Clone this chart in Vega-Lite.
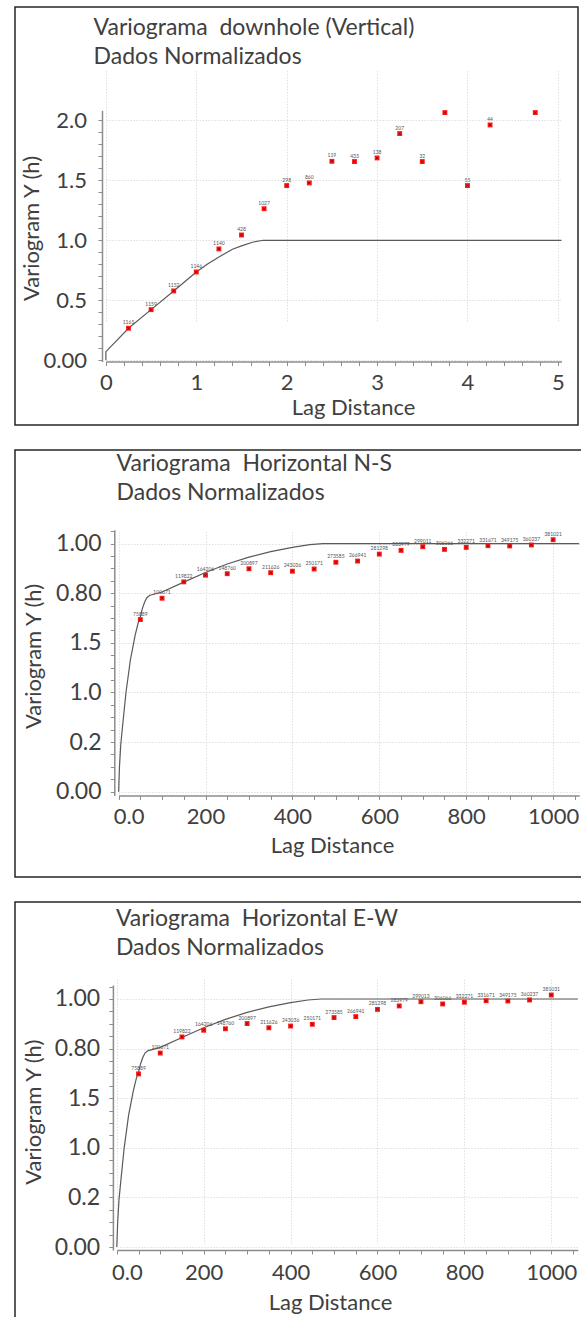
{
  "$schema": "https://vega.github.io/schema/vega-lite/v6.json",
  "background": "white",
  "padding": {"left": 14, "top": 6, "right": 0, "bottom": 0},
  "spacing": 23,
  "config": {
    "font": "Lato",
    "view": {"stroke": "#262626", "strokeWidth": 1.5},
    "axis": {
      "labelFont": "Lato", "labelFontSize": 22, "labelColor": "#404040",
      "titleFont": "Lato", "titleFontSize": 22, "titleColor": "#404040", "titleFontWeight": "normal",
      "domainColor": "#8c8c8c", "domainWidth": 1.5, "tickColor": "#8c8c8c", "tickWidth": 1,
      "gridColor": "#e0e0e0", "gridDash": [1.5, 1.5], "gridWidth": 1,
      "labelOverlap": false, "labelBound": false, "labelFlush": false
    },
    "title": {"font": "Lato", "fontSize": 23, "fontWeight": "normal", "color": "#404040", "anchor": "start", "frame": "group", "baseline": "alphabetic", "lineHeight": 29.5}
  },
  "datasets": {
    "vert_pts": [
      {"lag": 0.25, "gamma": 0.267, "pairs": "1165"},
      {"lag": 0.5, "gamma": 0.422, "pairs": "1159"},
      {"lag": 0.75, "gamma": 0.578, "pairs": "1152"},
      {"lag": 1.0, "gamma": 0.736, "pairs": "1146"},
      {"lag": 1.25, "gamma": 0.928, "pairs": "1140"},
      {"lag": 1.5, "gamma": 1.044, "pairs": "428"},
      {"lag": 1.75, "gamma": 1.263, "pairs": "1027"},
      {"lag": 2.0, "gamma": 1.456, "pairs": "298"},
      {"lag": 2.25, "gamma": 1.478, "pairs": "860"},
      {"lag": 2.5, "gamma": 1.658, "pairs": "119"},
      {"lag": 2.75, "gamma": 1.656, "pairs": "433"},
      {"lag": 3.0, "gamma": 1.686, "pairs": "138"},
      {"lag": 3.25, "gamma": 1.889, "pairs": "207"},
      {"lag": 3.5, "gamma": 1.656, "pairs": "32"},
      {"lag": 3.75, "gamma": 2.064, "pairs": ""},
      {"lag": 4.0, "gamma": 1.456, "pairs": "55"},
      {"lag": 4.25, "gamma": 1.961, "pairs": "44"},
      {"lag": 4.75, "gamma": 2.064, "pairs": ""}
    ],
    "vert_model": [
      {"seq": 0, "lag": 0, "gamma": 0},
      {"seq": 1, "lag": 0, "gamma": 0.072},
      {"seq": 2, "lag": 0.1, "gamma": 0.15},
      {"seq": 3, "lag": 0.25, "gamma": 0.267},
      {"seq": 4, "lag": 0.5, "gamma": 0.422},
      {"seq": 5, "lag": 0.75, "gamma": 0.578},
      {"seq": 6, "lag": 1.0, "gamma": 0.736},
      {"seq": 7, "lag": 1.125, "gamma": 0.803},
      {"seq": 8, "lag": 1.25, "gamma": 0.861},
      {"seq": 9, "lag": 1.4, "gamma": 0.925},
      {"seq": 10, "lag": 1.5, "gamma": 0.953},
      {"seq": 11, "lag": 1.63, "gamma": 0.986},
      {"seq": 12, "lag": 1.74, "gamma": 1.0},
      {"seq": 13, "lag": 5.04, "gamma": 1.0}
    ],
    "ns_pts": [
      {"lag": 50, "gamma": 0.694, "pairs": "75889"},
      {"lag": 100, "gamma": 0.78, "pairs": "100671"},
      {"lag": 150, "gamma": 0.846, "pairs": "119822"},
      {"lag": 200, "gamma": 0.873, "pairs": "164206"},
      {"lag": 250, "gamma": 0.879, "pairs": "148760"},
      {"lag": 300, "gamma": 0.899, "pairs": "200897"},
      {"lag": 350, "gamma": 0.883, "pairs": "211626"},
      {"lag": 400, "gamma": 0.889, "pairs": "243036"},
      {"lag": 450, "gamma": 0.898, "pairs": "250171"},
      {"lag": 500, "gamma": 0.925, "pairs": "273585"},
      {"lag": 550, "gamma": 0.93, "pairs": "266941"},
      {"lag": 600, "gamma": 0.958, "pairs": "281298"},
      {"lag": 650, "gamma": 0.973, "pairs": "283979"},
      {"lag": 700, "gamma": 0.988, "pairs": "299011"},
      {"lag": 750, "gamma": 0.977, "pairs": "306066"},
      {"lag": 800, "gamma": 0.985, "pairs": "332271"},
      {"lag": 850, "gamma": 0.992, "pairs": "331671"},
      {"lag": 900, "gamma": 0.991, "pairs": "349175"},
      {"lag": 950, "gamma": 0.995, "pairs": "360237"},
      {"lag": 1000, "gamma": 1.016, "pairs": "381021"}
    ],
    "ns_model": [
      {"seq": 0, "lag": 0, "gamma": 0},
      {"seq": 1, "lag": 2, "gamma": 0.1},
      {"seq": 2, "lag": 5, "gamma": 0.19},
      {"seq": 3, "lag": 10, "gamma": 0.28},
      {"seq": 4, "lag": 17, "gamma": 0.4},
      {"seq": 5, "lag": 27, "gamma": 0.53},
      {"seq": 6, "lag": 38, "gamma": 0.63},
      {"seq": 7, "lag": 45, "gamma": 0.68},
      {"seq": 8, "lag": 50, "gamma": 0.705},
      {"seq": 9, "lag": 55, "gamma": 0.74},
      {"seq": 10, "lag": 60, "gamma": 0.765},
      {"seq": 11, "lag": 65, "gamma": 0.782},
      {"seq": 12, "lag": 72, "gamma": 0.792},
      {"seq": 13, "lag": 86, "gamma": 0.798},
      {"seq": 14, "lag": 100, "gamma": 0.805},
      {"seq": 15, "lag": 150, "gamma": 0.845},
      {"seq": 16, "lag": 200, "gamma": 0.884},
      {"seq": 17, "lag": 250, "gamma": 0.918},
      {"seq": 18, "lag": 300, "gamma": 0.946},
      {"seq": 19, "lag": 350, "gamma": 0.968},
      {"seq": 20, "lag": 400, "gamma": 0.985},
      {"seq": 21, "lag": 440, "gamma": 0.996},
      {"seq": 22, "lag": 470, "gamma": 1.0},
      {"seq": 23, "lag": 1060, "gamma": 1.0}
    ],
    "ew_pts": [
      {"lag": 50, "gamma": 0.698, "pairs": "75889"},
      {"lag": 100, "gamma": 0.782, "pairs": "100671"},
      {"lag": 150, "gamma": 0.847, "pairs": "119822"},
      {"lag": 200, "gamma": 0.874, "pairs": "164206"},
      {"lag": 250, "gamma": 0.88, "pairs": "148760"},
      {"lag": 300, "gamma": 0.901, "pairs": "200897"},
      {"lag": 350, "gamma": 0.884, "pairs": "211626"},
      {"lag": 400, "gamma": 0.891, "pairs": "243036"},
      {"lag": 450, "gamma": 0.898, "pairs": "250171"},
      {"lag": 500, "gamma": 0.925, "pairs": "273585"},
      {"lag": 550, "gamma": 0.929, "pairs": "266941"},
      {"lag": 600, "gamma": 0.958, "pairs": "281298"},
      {"lag": 650, "gamma": 0.972, "pairs": "283979"},
      {"lag": 700, "gamma": 0.989, "pairs": "299013"},
      {"lag": 750, "gamma": 0.98, "pairs": "306066"},
      {"lag": 800, "gamma": 0.987, "pairs": "332271"},
      {"lag": 850, "gamma": 0.993, "pairs": "331671"},
      {"lag": 900, "gamma": 0.992, "pairs": "349175"},
      {"lag": 950, "gamma": 0.996, "pairs": "360237"},
      {"lag": 1000, "gamma": 1.016, "pairs": "381031"}
    ],
    "ew_model": [
      {"seq": 0, "lag": 0, "gamma": 0},
      {"seq": 1, "lag": 2, "gamma": 0.1},
      {"seq": 2, "lag": 5, "gamma": 0.19},
      {"seq": 3, "lag": 10, "gamma": 0.28},
      {"seq": 4, "lag": 17, "gamma": 0.4},
      {"seq": 5, "lag": 27, "gamma": 0.53},
      {"seq": 6, "lag": 38, "gamma": 0.63},
      {"seq": 7, "lag": 45, "gamma": 0.68},
      {"seq": 8, "lag": 50, "gamma": 0.705},
      {"seq": 9, "lag": 55, "gamma": 0.74},
      {"seq": 10, "lag": 60, "gamma": 0.765},
      {"seq": 11, "lag": 65, "gamma": 0.782},
      {"seq": 12, "lag": 72, "gamma": 0.792},
      {"seq": 13, "lag": 86, "gamma": 0.798},
      {"seq": 14, "lag": 100, "gamma": 0.805},
      {"seq": 15, "lag": 150, "gamma": 0.845},
      {"seq": 16, "lag": 200, "gamma": 0.884},
      {"seq": 17, "lag": 250, "gamma": 0.918},
      {"seq": 18, "lag": 300, "gamma": 0.946},
      {"seq": 19, "lag": 350, "gamma": 0.968},
      {"seq": 20, "lag": 400, "gamma": 0.985},
      {"seq": 21, "lag": 440, "gamma": 0.996},
      {"seq": 22, "lag": 470, "gamma": 1.0},
      {"seq": 23, "lag": 1061, "gamma": 1.0}
    ]
  },
  "vconcat": [
    {
      "width": 563,
      "height": 418,
      "title": {"text": ["Variograma\u00a0 downhole (Vertical)", "Dados Normalizados"], "dx": 78.6, "offset": -62},
      "encoding": {
        "x": {
          "field": "lag", "type": "quantitative",
          "scale": {"domain": [0, 5.04], "range": [90.9, 546.5]},
          "axis": {
            "values": [0, 0.2, 0.4, 0.6, 0.8, 1, 1.2, 1.4, 1.6, 1.8, 2, 2.2, 2.4, 2.6, 2.8, 3, 3.2, 3.4, 3.6, 3.8, 4, 4.2, 4.4, 4.6, 4.8, 5],
            "offset": -63.5,
            "labelExpr": "abs(datum.value - round(datum.value)) < 0.001 ? format(datum.value, 'd') : ''",
            "tickSize": 4, "labelPadding": 7,
            "gridOpacity": {"condition": {"test": "abs(datum.value - round(datum.value)) < 0.001", "value": 1}, "value": 0},
            "title": "Lag Distance", "titleX": 338, "titleY": 52.6, "titleBaseline": "alphabetic", "titleAlign": "center"
          }
        },
        "y": {
          "field": "gamma", "type": "quantitative",
          "scale": {"domain": [-0.01, 2.083], "range": [354.5, 103.3]},
          "axis": {
            "values": [0, 0.1, 0.2, 0.3, 0.4, 0.5, 0.6, 0.7, 0.8, 0.9, 1, 1.1, 1.2, 1.3, 1.4, 1.5, 1.6, 1.7, 1.8, 1.9, 2],
            "offset": -87,
            "labelExpr": "datum.value == 0 ? '0.00' : abs(datum.value * 2 - round(datum.value * 2)) < 0.001 ? format(datum.value, '.1f') : ''",
            "tickSize": 4, "labelPadding": 11.5,
            "gridOpacity": {"condition": {"test": "abs(datum.value * 2 - round(datum.value * 2)) < 0.001", "value": 1}, "value": 0},
            "title": "Variogram Y (h)", "titleX": -64, "titleY": 221, "titleAngle": 270, "titleBaseline": "alphabetic", "titleAlign": "center"
          }
        }
      },
      "layer": [
        {"data": {"name": "vert_model"}, "mark": {"type": "line", "color": "#5a5a5a", "strokeWidth": 1.2}, "encoding": {"order": {"field": "seq", "type": "quantitative"}}},
        {"data": {"name": "vert_pts"}, "mark": {"type": "point", "shape": "square", "filled": true, "color": "#ff1a1a", "size": 24, "opacity": 1}},
        {"data": {"name": "vert_pts"}, "mark": {"type": "point", "shape": "M-0.6,-0.6L0.6,0.6M-0.6,0.6L0.6,-0.6", "filled": false, "color": "#a00000", "strokeWidth": 1, "size": 16, "opacity": 1}},
        {"data": {"name": "vert_pts"}, "mark": {"type": "text", "fontSize": 5, "dy": -6, "color": "#555555"}, "encoding": {"text": {"field": "pairs"}}}
      ]
    },
    {
      "width": 575,
      "height": 427,
      "title": {"text": ["Variograma\u00a0 Horizontal N-S", "Dados Normalizados"], "dx": 101.6, "offset": -55.3, "lineHeight": 29},
      "encoding": {
        "x": {
          "field": "lag", "type": "quantitative",
          "scale": {"domain": [0, 1060], "range": [103.6, 564.2]},
          "axis": {
            "values": [0, 50, 100, 150, 200, 250, 300, 350, 400, 450, 500, 550, 600, 650, 700, 750, 800, 850, 900, 950, 1000, 1050],
            "offset": -81.6,
            "labelExpr": "datum.value == 0 ? '0.0' : datum.value % 200 == 0 ? format(datum.value, 'd') : ''",
            "labelOffset": {"condition": {"test": "datum.value == 0", "value": 10}, "value": 0},
            "tickSize": 4, "labelPadding": 7,
            "gridOpacity": {"condition": {"test": "datum.value % 200 == 0", "value": 1}, "value": 0},
            "title": "Lag Distance", "titleX": 317, "titleY": 57.3, "titleBaseline": "alphabetic", "titleAlign": "center"
          }
        },
        "y": {
          "field": "gamma", "type": "quantitative",
          "scale": {"domain": [-0.015, 1.056], "range": [345.4, 79.8]},
          "axis": {
            "values": [0, 0.05, 0.1, 0.15, 0.2, 0.25, 0.3, 0.35, 0.4, 0.45, 0.5, 0.55, 0.6, 0.65, 0.7, 0.75, 0.8, 0.85, 0.9, 0.95, 1, 1.05],
            "offset": -99.3,
            "labelExpr": "abs(datum.value * 5 - round(datum.value * 5)) < 0.001 ? ['0.00', '0.2', '1.0', '1.5', '0.80', '1.00'][round(datum.value * 5)] : ''",
            "labelFontSize": 23,
            "tickSize": 4, "labelPadding": 9.3,
            "gridOpacity": {"condition": {"test": "abs(datum.value * 5 - round(datum.value * 5)) < 0.001", "value": 1}, "value": 0},
            "title": "Variogram Y (h)", "titleX": -74.3, "titleY": 206, "titleAngle": 270, "titleBaseline": "alphabetic", "titleAlign": "center"
          }
        }
      },
      "layer": [
        {"data": {"name": "ns_model"}, "mark": {"type": "line", "color": "#5a5a5a", "strokeWidth": 1.2}, "encoding": {"order": {"field": "seq", "type": "quantitative"}}},
        {"data": {"name": "ns_pts"}, "mark": {"type": "point", "shape": "square", "filled": true, "color": "#ff1a1a", "size": 24, "opacity": 1}},
        {"data": {"name": "ns_pts"}, "mark": {"type": "point", "shape": "M-0.6,-0.6L0.6,0.6M-0.6,0.6L0.6,-0.6", "filled": false, "color": "#a00000", "strokeWidth": 1, "size": 16, "opacity": 1}},
        {"data": {"name": "ns_pts"}, "mark": {"type": "text", "fontSize": 5, "dy": -6, "color": "#555555"}, "encoding": {"text": {"field": "pairs"}}}
      ]
    },
    {
      "width": 575,
      "height": 425,
      "title": {"text": ["Variograma\u00a0 Horizontal E-W", "Dados Normalizados"], "dx": 100.9, "offset": -58, "lineHeight": 29},
      "encoding": {
        "x": {
          "field": "lag", "type": "quantitative",
          "scale": {"domain": [0, 1061], "range": [101.8, 562.8]},
          "axis": {
            "values": [0, 50, 100, 150, 200, 250, 300, 350, 400, 450, 500, 550, 600, 650, 700, 750, 800, 850, 900, 950, 1000, 1050],
            "offset": -77,
            "labelExpr": "datum.value == 0 ? '0.0' : datum.value % 200 == 0 ? format(datum.value, 'd') : ''",
            "labelOffset": {"condition": {"test": "datum.value == 0", "value": 10}, "value": 0},
            "tickSize": 4, "labelPadding": 8,
            "gridOpacity": {"condition": {"test": "datum.value % 200 == 0", "value": 1}, "value": 0},
            "title": "Lag Distance", "titleX": 315, "titleY": 59, "titleBaseline": "alphabetic", "titleAlign": "center"
          }
        },
        "y": {
          "field": "gamma", "type": "quantitative",
          "scale": {"domain": [-0.012, 1.056], "range": [348, 83.1]},
          "axis": {
            "values": [0, 0.05, 0.1, 0.15, 0.2, 0.25, 0.3, 0.35, 0.4, 0.45, 0.5, 0.55, 0.6, 0.65, 0.7, 0.75, 0.8, 0.85, 0.9, 0.95, 1, 1.05],
            "offset": -97.9,
            "labelExpr": "abs(datum.value * 5 - round(datum.value * 5)) < 0.001 ? ['0.00', '0.2', '1.0', '1.5', '0.80', '1.00'][round(datum.value * 5)] : ''",
            "labelFontSize": 23,
            "tickSize": 4, "labelPadding": 9.3,
            "gridOpacity": {"condition": {"test": "abs(datum.value * 5 - round(datum.value * 5)) < 0.001", "value": 1}, "value": 0},
            "title": "Variogram Y (h)", "titleX": -72.9, "titleY": 209.7, "titleAngle": 270, "titleBaseline": "alphabetic", "titleAlign": "center"
          }
        }
      },
      "layer": [
        {"data": {"name": "ew_model"}, "mark": {"type": "line", "color": "#5a5a5a", "strokeWidth": 1.2}, "encoding": {"order": {"field": "seq", "type": "quantitative"}}},
        {"data": {"name": "ew_pts"}, "mark": {"type": "point", "shape": "square", "filled": true, "color": "#ff1a1a", "size": 24, "opacity": 1}},
        {"data": {"name": "ew_pts"}, "mark": {"type": "point", "shape": "M-0.6,-0.6L0.6,0.6M-0.6,0.6L0.6,-0.6", "filled": false, "color": "#a00000", "strokeWidth": 1, "size": 16, "opacity": 1}},
        {"data": {"name": "ew_pts"}, "mark": {"type": "text", "fontSize": 5, "dy": -6, "color": "#555555"}, "encoding": {"text": {"field": "pairs"}}}
      ]
    }
  ]
}
